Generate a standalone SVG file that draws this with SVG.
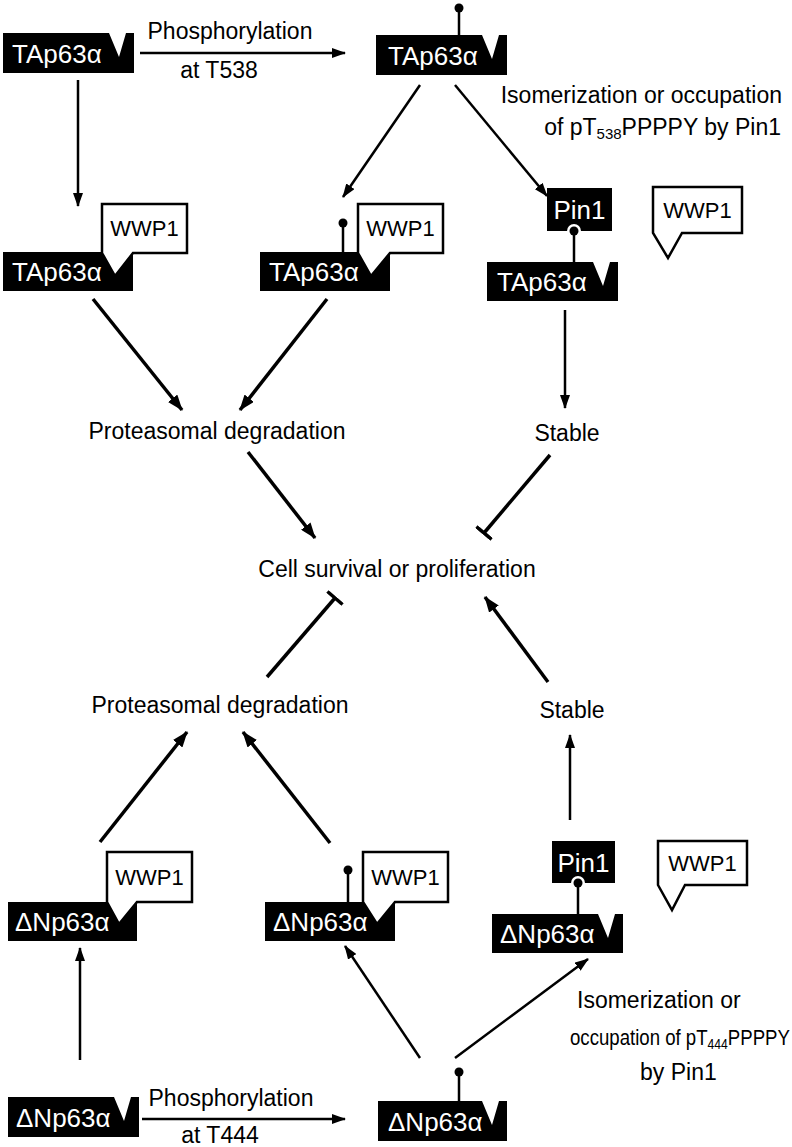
<svg xmlns="http://www.w3.org/2000/svg" width="792" height="1147" viewBox="0 0 792 1147">
<style>
.lbl{font-family:"Liberation Sans",Arial,sans-serif;font-size:23px;fill:#000}
.c{text-anchor:middle}
.nt{font-family:"Liberation Sans",Arial,sans-serif;font-size:26px;fill:#fff}
.wt{font-family:"Liberation Sans",Arial,sans-serif;font-size:22px;fill:#000;text-anchor:middle}
.prot{fill:#000}
.wwp{fill:#fff;stroke:#000;stroke-width:2.5;stroke-linejoin:miter}
.stick{stroke:#000;stroke-width:2.5}
.ln{stroke:#000;stroke-width:2.5;fill:none}
.lnb{stroke:#000;stroke-width:3.5;fill:none}
</style>
<defs>
<marker id="ah" viewBox="0 0 14 10" refX="13" refY="5" markerWidth="14" markerHeight="10" markerUnits="userSpaceOnUse" orient="auto"><path d="M0,0 L14,5 L0,10 Z" fill="#000"/></marker>
<marker id="ahb" viewBox="0 0 16 12" refX="15" refY="6" markerWidth="16" markerHeight="12" markerUnits="userSpaceOnUse" orient="auto"><path d="M0,0 L16,6 L0,12 Z" fill="#000"/></marker>
<marker id="tb" viewBox="-2 -11 4 22" refX="0" refY="0" markerWidth="4" markerHeight="22" markerUnits="userSpaceOnUse" orient="auto"><path d="M0,-10 V10" stroke="#000" stroke-width="3.5"/></marker>
</defs>

<g id="connectors">
<line class="ln" x1="140" y1="53" x2="345" y2="53" marker-end="url(#ah)"/>
<line class="ln" x1="78" y1="80" x2="78" y2="206" marker-end="url(#ah)"/>
<line class="ln" x1="420" y1="85" x2="343" y2="197" marker-end="url(#ah)"/>
<line class="ln" x1="455" y1="85" x2="547" y2="196" marker-end="url(#ah)"/>
<line class="lnb" x1="93" y1="299" x2="182" y2="410" marker-end="url(#ahb)"/>
<line class="lnb" x1="327" y1="299" x2="240" y2="410" marker-end="url(#ahb)"/>
<line class="ln" x1="565" y1="310" x2="565" y2="408" marker-end="url(#ah)"/>
<line class="lnb" x1="248" y1="452" x2="315" y2="538" marker-end="url(#ahb)"/>
<line class="lnb" x1="550" y1="455" x2="484" y2="533" marker-end="url(#tb)"/>
<line class="lnb" x1="267" y1="677" x2="335" y2="598" marker-end="url(#tb)"/>
<line class="lnb" x1="548" y1="682" x2="485" y2="597" marker-end="url(#ahb)"/>
<line class="ln" x1="570" y1="820" x2="570" y2="735" marker-end="url(#ah)"/>
<line class="lnb" x1="100" y1="842" x2="187" y2="732" marker-end="url(#ahb)"/>
<line class="lnb" x1="330" y1="843" x2="243" y2="732" marker-end="url(#ahb)"/>
<line class="ln" x1="80" y1="1060" x2="80" y2="948" marker-end="url(#ah)"/>
<line class="ln" x1="420" y1="1058" x2="345" y2="946" marker-end="url(#ah)"/>
<line class="ln" x1="455" y1="1058" x2="588" y2="959" marker-end="url(#ah)"/>
<line class="ln" x1="142" y1="1119" x2="345" y2="1119" marker-end="url(#ah)"/>
</g>

<g id="labels">
<text class="lbl c" x="230" y="39">Phosphorylation</text>
<text class="lbl c" x="219" y="78">at T538</text>
<text class="lbl" x="782" y="103" text-anchor="end">Isomerization or occupation</text>
<text class="lbl" x="781" y="135" text-anchor="end">of pT<tspan font-size="15" dy="4">538</tspan><tspan dy="-4">PPPPY by Pin1</tspan></text>
<text class="lbl c" x="217" y="439">Proteasomal degradation</text>
<text class="lbl c" x="567" y="441">Stable</text>
<text class="lbl c" x="397" y="577">Cell survival or proliferation</text>
<text class="lbl c" x="220" y="713">Proteasomal degradation</text>
<text class="lbl c" x="572" y="718">Stable</text>
<text class="lbl" x="577" y="1008">Isomerization or</text>
<text class="lbl" transform="translate(570,1045) scale(0.81,1)" x="0" y="0">occupation of pT<tspan font-size="15" dy="4">444</tspan><tspan dy="-4">PPPPY</tspan></text>
<text class="lbl" x="640" y="1080">by Pin1</text>
<text class="lbl c" x="231" y="1106">Phosphorylation</text>
<text class="lbl c" x="220" y="1143">at T444</text>
</g>

<g id="n1">
<path class="prot" d="M3,33 H109 L119,57 L126,33 H134 V73 H3 Z"/>
<text class="nt" x="12" y="63">TAp63α</text>
</g>

<g id="n2">
<line class="stick" x1="459" y1="11" x2="459" y2="35"/>
<circle cx="459" cy="8" r="4.5"/>
<path class="prot" d="M376,35 H482 L492,59 L499,35 H507 V75 H376 Z"/>
<text class="nt" x="388" y="65">TAp63α</text>
</g>

<g id="n3">
<rect class="prot" x="3" y="252" width="130" height="39"/>
<text class="nt" x="12" y="281">TAp63α</text>
<path class="wwp" d="M102,204 H187 V253 H133 L115,276 L102,253 Z"/>
<text class="wt" x="144.5" y="236">WWP1</text>
</g>

<g id="n4">
<line class="stick" x1="343" y1="227" x2="343" y2="253"/>
<circle cx="343" cy="223" r="4.5"/>
<rect class="prot" x="260" y="252" width="130" height="39"/>
<text class="nt" x="269" y="281">TAp63α</text>
<path class="wwp" d="M358,204 H443 V253 H390 L371,276 L358,253 Z"/>
<text class="wt" x="400.5" y="236">WWP1</text>
</g>

<g id="n5">
<rect class="prot" x="547" y="188" width="65" height="43"/>
<text class="nt" x="579.5" y="219" text-anchor="middle">Pin1</text>
<circle cx="574" cy="231" r="7" fill="#fff"/>
<circle cx="574" cy="231" r="4.5"/>
<line class="stick" x1="574" y1="234" x2="574" y2="262"/>
<path class="prot" d="M487,262 H593 L603,286 L610,262 H618 V301 H487 Z"/>
<text class="nt" x="497" y="291">TAp63α</text>
</g>

<g id="n5w">
<path class="wwp" d="M653,187 H742 V233 H682 L668,258 L653,233 Z"/>
<text class="wt" x="697.5" y="218">WWP1</text>
</g>

<g id="n6">
<rect class="prot" x="8" y="902" width="129" height="39"/>
<text class="nt" x="15" y="931">ΔNp63α</text>
<path class="wwp" d="M107,852 H192 V902 H137 L119,924 L107,902 Z"/>
<text class="wt" x="149.5" y="885">WWP1</text>
</g>

<g id="n7">
<line class="stick" x1="348" y1="874" x2="348" y2="902"/>
<circle cx="348" cy="870" r="4.5"/>
<rect class="prot" x="265" y="902" width="130" height="39"/>
<text class="nt" x="273" y="931">ΔNp63α</text>
<path class="wwp" d="M363,852 H448 V902 H395 L377,924 L363,902 Z"/>
<text class="wt" x="405.5" y="885">WWP1</text>
</g>

<g id="n8">
<rect class="prot" x="552" y="841" width="63" height="42"/>
<text class="nt" x="583.5" y="872" text-anchor="middle">Pin1</text>
<circle cx="578" cy="883" r="7" fill="#fff"/>
<circle cx="578" cy="883" r="4.5"/>
<line class="stick" x1="578" y1="886" x2="578" y2="914"/>
<path class="prot" d="M492,914 H598 L608,938 L615,914 H623 V953 H492 Z"/>
<text class="nt" x="500" y="943">ΔNp63α</text>
</g>

<g id="n8w">
<path class="wwp" d="M658,841 H747 V885 H685 L672,910 L658,885 Z"/>
<text class="wt" x="702.5" y="871">WWP1</text>
</g>

<g id="n9">
<path class="prot" d="M8,1097 H114 L124,1121 L131,1097 H139 V1137 H8 Z"/>
<text class="nt" x="16" y="1127">ΔNp63α</text>
</g>

<g id="n10">
<line class="stick" x1="459" y1="1076" x2="459" y2="1101"/>
<circle cx="459" cy="1072" r="4.5"/>
<path class="prot" d="M378,1101 H482 L492,1125 L499,1101 H507 V1141 H378 Z"/>
<text class="nt" x="388" y="1131">ΔNp63α</text>
</g>
</svg>
